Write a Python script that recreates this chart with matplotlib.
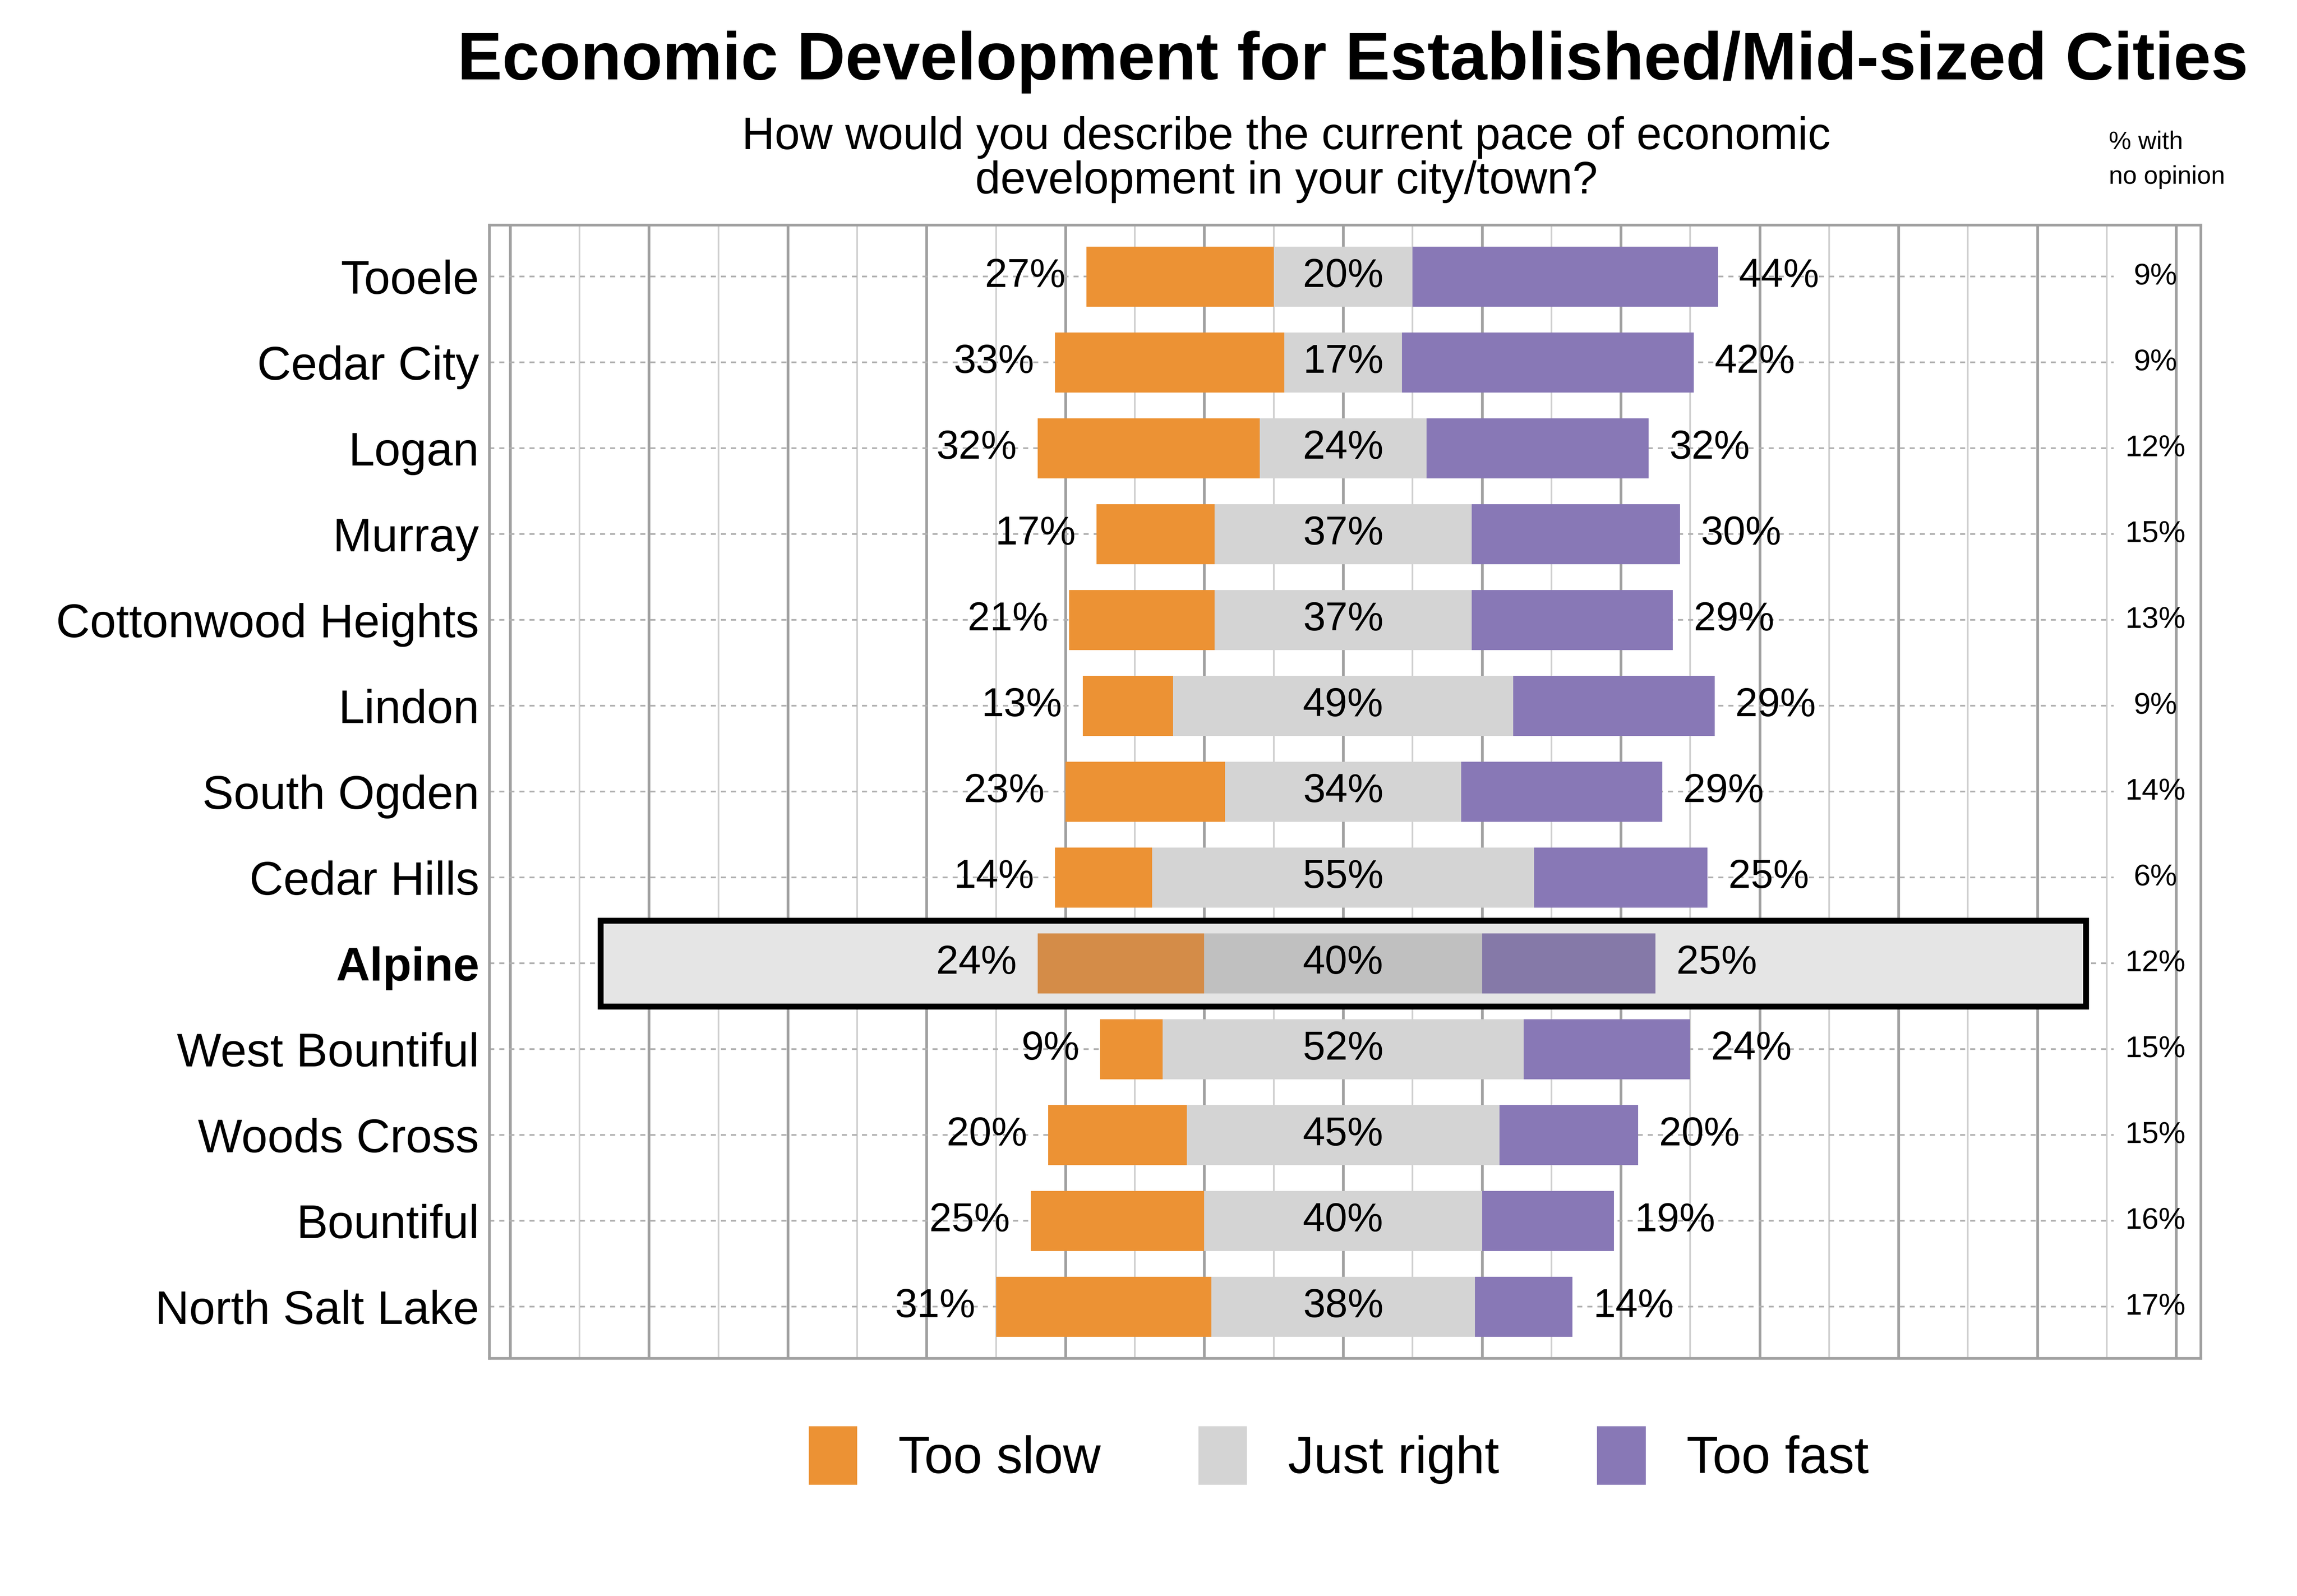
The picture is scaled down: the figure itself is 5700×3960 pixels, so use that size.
import matplotlib
matplotlib.use("Agg")
import matplotlib.pyplot as plt
from matplotlib.patches import Rectangle, Patch

plt.rcParams['font.family'] = ['Liberation Sans', 'DejaVu Sans']

cities = ["Tooele", "Cedar City", "Logan", "Murray", "Cottonwood Heights", "Lindon",
          "South Ogden", "Cedar Hills", "Alpine", "West Bountiful", "Woods Cross",
          "Bountiful", "North Salt Lake"]
too_slow = [27, 33, 32, 17, 21, 13, 23, 14, 24, 9, 20, 25, 31]
just_right = [20, 17, 24, 37, 37, 49, 34, 55, 40, 52, 45, 40, 38]
too_fast = [44, 42, 32, 30, 29, 29, 29, 25, 25, 24, 20, 19, 14]
no_opinion = [9, 9, 12, 15, 13, 9, 14, 6, 12, 15, 15, 16, 17]
highlight = "Alpine"

c_slow, c_just, c_fast = "#ec9234", "#d4d4d4", "#8878b6"
h_slow, h_just, h_fast = "#d48c48", "#c0c0c0", "#8579a8"

fig = plt.figure(figsize=(19, 13.2), dpi=300)
ax = fig.add_axes([0.213, 0.149, 0.745, 0.710])
ax.set_xlim(-123, 123.5)
n = len(cities)
ax.set_ylim(n - 0.4, -0.6)

for x in range(-120, 121, 10):
    major = x % 20 == 0
    ax.axvline(x, color="#a0a0a0" if major else "#d0d0d0", lw=1.6 if major else 1.0, zorder=0)

for i, c in enumerate(cities):
    ax.plot([-123, 111], [i, i], ls=(0, (3, 3)), color="#b0b0b0", lw=1.0, zorder=1)
    hl = c == highlight
    if hl:
        ax.add_patch(Rectangle((-107, i - 0.5), 214, 1.0, facecolor="#e5e5e5",
                               edgecolor="black", lw=3.5, zorder=2))
    j = just_right[i]
    left = -j / 2
    ax.barh(i, too_slow[i], left=left - too_slow[i], height=0.7,
            color=h_slow if hl else c_slow, zorder=3)
    ax.barh(i, j, left=left, height=0.7, color=h_just if hl else c_just, zorder=3)
    ax.barh(i, too_fast[i], left=j / 2, height=0.7, color=h_fast if hl else c_fast, zorder=3)
    ax.text(left - too_slow[i] - 3, i, f"{too_slow[i]}%", ha="right", va="center", fontsize=24, zorder=4)
    ax.text(0, i, f"{j}%", ha="center", va="center", fontsize=24, zorder=4)
    ax.text(j / 2 + too_fast[i] + 3, i, f"{too_fast[i]}%", ha="left", va="center", fontsize=24, zorder=4)
    ax.text(117, i, f"{no_opinion[i]}%", ha="center", va="center", fontsize=18, zorder=4)

ax.set_yticks(range(n))
ax.set_yticklabels(cities, fontsize=28)
for lbl in ax.get_yticklabels():
    if lbl.get_text() == highlight:
        lbl.set_fontweight("bold")
ax.tick_params(axis="y", length=0, pad=6)
ax.set_xticks([])
for s in ax.spines.values():
    s.set_color("#a0a0a0")
    s.set_linewidth(1.6)

fig.text(0.589, 0.961, "Economic Development for Established/Mid-sized Cities",
         ha="center", va="center", fontsize=40, fontweight="bold")
fig.text(0.56, 0.90, "How would you describe the current pace of economic\ndevelopment in your city/town?",
         ha="center", va="center", fontsize=27, linespacing=1.05)
fig.text(0.918, 0.9, "% with\nno opinion", ha="left", va="center", fontsize=15, linespacing=1.6)

handles = [Patch(color=c_slow, label="Too slow"), Patch(color=c_just, label="Just right"),
           Patch(color=c_fast, label="Too fast")]
fig.legend(handles=handles, loc="center", bbox_to_anchor=(0.583, 0.088), ncol=3,
           frameon=False, fontsize=31, handlelength=0.9, handleheight=1.3,
           columnspacing=1.9, handletextpad=0.8)

fig.savefig("out.png", dpi=300)
